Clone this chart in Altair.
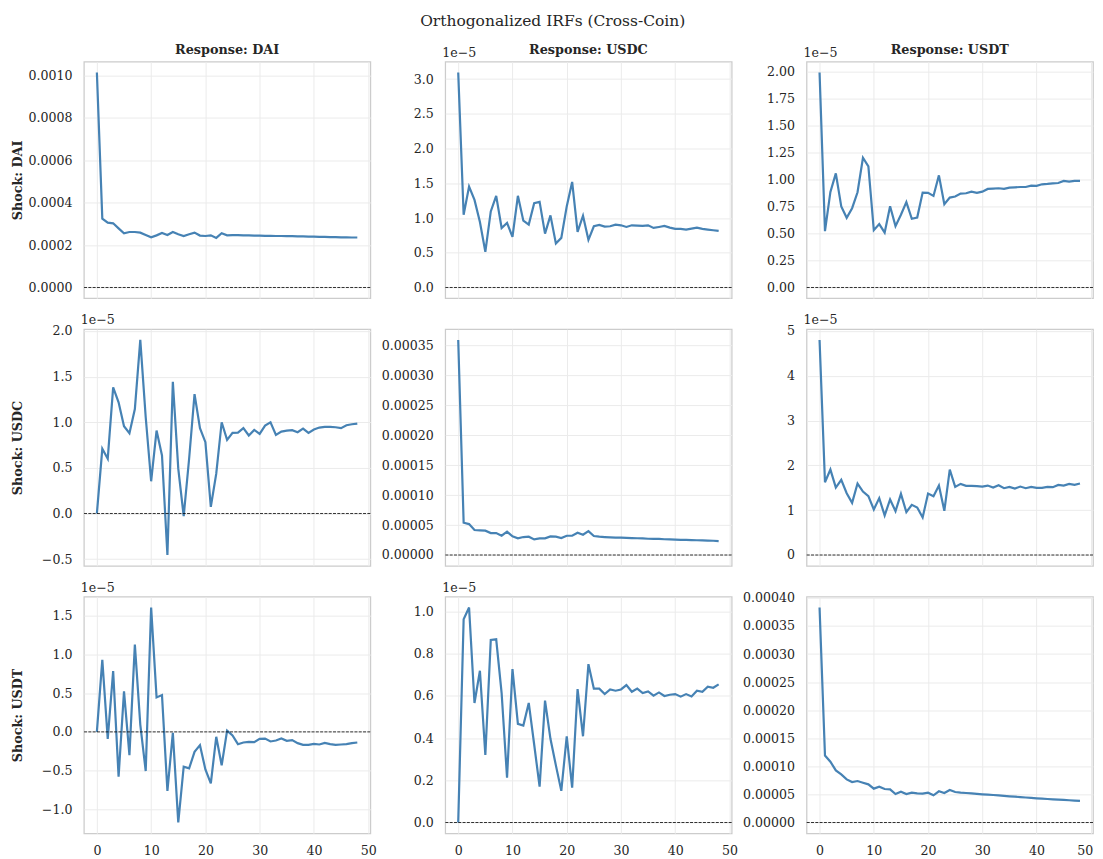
import altair as alt
import pandas as pd

FONT = "DejaVu Serif"
TEXT_COLOR = "#262626"
LINE_COLOR = "#4682b4"

horizon = list(range(49))
coins = ["DAI", "USDC", "USDT"]
main_title = "Orthogonalized IRFs (Cross-Coin)"
offset_label = "1e\u22125"

# ---- IRF values (row = shock, col = response) ----
# shock DAI
dai_to_dai = [0.001015, 0.000325, 0.000306, 0.000303, 0.000279, 0.000256, 0.000262, 0.000262, 0.000259, 0.000248,
              0.000237, 0.000246, 0.000257, 0.000248, 0.000262, 0.000251, 0.000243, 0.000251, 0.000259, 0.000245,
              0.000243, 0.000246, 0.000234, 0.000256, 0.000246, 0.000247, 0.000247, 0.000246, 0.000246, 0.000245,
              0.000245, 0.000244, 0.000244, 0.000243, 0.000243, 0.000242, 0.000242, 0.000241, 0.000241, 0.000240,
              0.000240, 0.000239, 0.000239, 0.000238, 0.000238, 0.000237, 0.000237, 0.000236, 0.000236]
dai_to_usdc_e5 = [3.095, 1.048, 1.452, 1.26, 0.943, 0.514, 1.095, 1.319, 0.857, 0.929,
                  0.729, 1.319, 0.962, 0.905, 1.214, 1.233, 0.776, 1.038, 0.633, 0.714,
                  1.167, 1.519, 0.80, 1.033, 0.686, 0.881, 0.90, 0.876, 0.881, 0.905,
                  0.895, 0.871, 0.895, 0.89, 0.886, 0.895, 0.857, 0.871, 0.886, 0.862,
                  0.843, 0.843, 0.833, 0.848, 0.862, 0.843, 0.833, 0.824, 0.814]
dai_to_usdt_e5 = [1.994, 0.523, 0.886, 1.058, 0.751, 0.646, 0.735, 0.883, 1.203, 1.123,
                  0.532, 0.588, 0.508, 0.754, 0.569, 0.674, 0.791, 0.637, 0.649, 0.88,
                  0.877, 0.849, 1.04, 0.772, 0.834, 0.843, 0.871, 0.874, 0.889, 0.877,
                  0.889, 0.914, 0.917, 0.92, 0.914, 0.926, 0.929, 0.932, 0.932, 0.945,
                  0.942, 0.957, 0.96, 0.966, 0.969, 0.988, 0.982, 0.988, 0.988]
# shock USDC
usdc_to_dai_e5 = [0.0, 0.709, 0.6, 1.382, 1.218, 0.956, 0.88, 1.145, 1.902, 1.055,
                  0.353, 0.909, 0.636, -0.455, 1.444, 0.491, -0.029, 0.6, 1.309, 0.935,
                  0.782, 0.073, 0.436, 1.0, 0.807, 0.884, 0.887, 0.935, 0.855, 0.916,
                  0.873, 0.964, 1.0, 0.862, 0.898, 0.909, 0.913, 0.891, 0.931, 0.884,
                  0.92, 0.942, 0.949, 0.949, 0.945, 0.935, 0.967, 0.978, 0.985]
usdc_to_usdc = [3.594e-4, 5.39e-5, 5.17e-5, 4.17e-5, 4.11e-5, 4.06e-5, 3.67e-5, 3.67e-5, 3.22e-5, 3.89e-5,
                3.11e-5, 2.78e-5, 3.00e-5, 3.06e-5, 2.61e-5, 2.78e-5, 2.78e-5, 3.11e-5, 3.06e-5, 2.83e-5,
                3.22e-5, 3.22e-5, 3.72e-5, 3.39e-5, 4.00e-5, 3.17e-5, 3.06e-5, 3.00e-5, 2.96e-5, 2.92e-5,
                2.89e-5, 2.86e-5, 2.83e-5, 2.80e-5, 2.77e-5, 2.72e-5, 2.70e-5, 2.68e-5, 2.63e-5, 2.60e-5,
                2.56e-5, 2.54e-5, 2.52e-5, 2.50e-5, 2.47e-5, 2.44e-5, 2.41e-5, 2.38e-5, 2.33e-5]
usdc_to_usdt_e5 = [4.8, 1.625, 1.907, 1.506, 1.677, 1.38, 1.165, 1.595, 1.417, 1.313,
                   1.016, 1.269, 0.883, 1.239, 0.979, 1.365, 0.957, 1.12, 1.061, 0.838,
                   1.372, 1.313, 1.55, 0.987, 1.907, 1.521, 1.588, 1.543, 1.543, 1.536,
                   1.528, 1.55, 1.506, 1.558, 1.491, 1.521, 1.484, 1.528, 1.491, 1.521,
                   1.499, 1.499, 1.521, 1.513, 1.565, 1.55, 1.588, 1.565, 1.595]
# shock USDT
usdt_to_dai_e5 = [0.0, 0.931, -0.09, 0.785, -0.579, 0.524, -0.3, 1.129, 0.094, -0.506,
                  1.609, 0.446, 0.476, -0.764, -0.013, -1.172, -0.451, -0.472, -0.258, -0.172,
                  -0.485, -0.665, -0.064, -0.433, 0.017, -0.047, -0.159, -0.137, -0.129, -0.133,
                  -0.09, -0.086, -0.124, -0.112, -0.086, -0.116, -0.107, -0.146, -0.167, -0.167,
                  -0.155, -0.163, -0.142, -0.159, -0.167, -0.163, -0.159, -0.146, -0.137]
usdt_to_usdc_e5 = [0.0, 0.964, 1.02, 0.567, 0.72, 0.32, 0.866, 0.869, 0.614, 0.213,
                   0.728, 0.468, 0.46, 0.567, 0.37, 0.17, 0.578, 0.397, 0.271, 0.15,
                   0.409, 0.165, 0.633, 0.409, 0.751, 0.635, 0.635, 0.609, 0.631, 0.625,
                   0.631, 0.652, 0.62, 0.635, 0.614, 0.622, 0.602, 0.617, 0.6, 0.606,
                   0.609, 0.597, 0.609, 0.598, 0.625, 0.62, 0.644, 0.639, 0.655]
usdt_to_usdt = [3.83e-4, 1.194e-4, 1.082e-4, 9.28e-5, 8.57e-5, 7.68e-5, 7.21e-5, 7.39e-5, 7.09e-5, 6.80e-5,
                6.03e-5, 6.38e-5, 5.97e-5, 5.91e-5, 5.08e-5, 5.50e-5, 5.08e-5, 5.32e-5, 5.20e-5, 5.14e-5,
                5.32e-5, 4.85e-5, 5.56e-5, 5.26e-5, 5.79e-5, 5.44e-5, 5.32e-5, 5.26e-5, 5.18e-5, 5.10e-5,
                5.02e-5, 4.96e-5, 4.90e-5, 4.83e-5, 4.75e-5, 4.67e-5, 4.60e-5, 4.53e-5, 4.45e-5, 4.38e-5,
                4.31e-5, 4.25e-5, 4.19e-5, 4.13e-5, 4.07e-5, 4.02e-5, 3.96e-5, 3.90e-5, 3.84e-5]

# ---- tick labels per panel ----
x_ticks = [0, 10, 20, 30, 40, 50]
ticks_dai_dai = [0.0, 0.0002, 0.0004, 0.0006, 0.0008, 0.0010]
ticks_dai_usdc = [0.0, 0.5, 1.0, 1.5, 2.0, 2.5, 3.0]
ticks_dai_usdt = [0.0, 0.25, 0.5, 0.75, 1.0, 1.25, 1.5, 1.75, 2.0]
ticks_usdc_dai = [-0.5, 0.0, 0.5, 1.0, 1.5, 2.0]
ticks_usdc_usdc = [0.0, 0.00005, 0.0001, 0.00015, 0.0002, 0.00025, 0.0003, 0.00035]
ticks_usdc_usdt = [0, 1, 2, 3, 4, 5]
ticks_usdt_dai = [-1.0, -0.5, 0.0, 0.5, 1.0, 1.5]
ticks_usdt_usdc = [0.0, 0.2, 0.4, 0.6, 0.8, 1.0]
ticks_usdt_usdt = [0.0, 0.00005, 0.0001, 0.00015, 0.0002, 0.00025, 0.0003, 0.00035, 0.0004]

# (values, ticks, format, shows 1e-5 offset label)
panels = [
    [(dai_to_dai, ticks_dai_dai, ".4f", False),
     (dai_to_usdc_e5, ticks_dai_usdc, ".1f", True),
     (dai_to_usdt_e5, ticks_dai_usdt, ".2f", True)],
    [(usdc_to_dai_e5, ticks_usdc_dai, ".1f", True),
     (usdc_to_usdc, ticks_usdc_usdc, ".5f", False),
     (usdc_to_usdt_e5, ticks_usdc_usdt, "d", True)],
    [(usdt_to_dai_e5, ticks_usdt_dai, ".1f", True),
     (usdt_to_usdc_e5, ticks_usdt_usdc, ".1f", True),
     (usdt_to_usdt, ticks_usdt_usdt, ".5f", False)],
]

W, H = 287, 237
LABEL_SIZE = 12.6
HEAD_SIZE = 12.8


def text_layer(text, x, y, align, weight, size):
    return alt.Chart(pd.DataFrame({"t": [text]})).mark_text(
        align=align, baseline="alphabetic", font=FONT, fontSize=size,
        fontWeight=weight, color=TEXT_COLOR
    ).encode(x=alt.value(x), y=alt.value(y), text="t:N")


def make_panel(r, c):
    vals, ticks, fmt, offset = panels[r][c]
    lo = min(min(vals), 0.0)
    hi = max(max(vals), 0.0)
    pad = 0.05 * (hi - lo)
    yscale = alt.Scale(domain=[lo - pad, hi + pad], nice=False, zero=False)
    yaxis_kw = dict(values=ticks, format=fmt)
    if c == 0:
        yaxis_kw.update(titleX=-62, titleY=H / 2, titleAngle=-90, titleAlign="center",
                        titleBaseline="alphabetic", titleFont=FONT, titleFontSize=HEAD_SIZE,
                        titleFontWeight="bold", titleColor=TEXT_COLOR)
        ytitle = f"Shock: {coins[r]}"
    else:
        ytitle = None
    yenc = alt.Y("v:Q", scale=yscale, axis=alt.Axis(**yaxis_kw), title=ytitle)

    xaxis_kw = dict(values=x_ticks, labels=(r == 2), format="d")
    if c == 2:
        # keep the last label inside the page
        xaxis_kw["labelOffset"] = alt.condition("datum.value == 50", alt.value(-6), alt.value(0))
    xenc = alt.X("h:Q", scale=alt.Scale(domain=[-2.4, 50.4], nice=False, zero=False),
                 axis=alt.Axis(**xaxis_kw), title=None)

    df = pd.DataFrame({"h": horizon, "v": vals})
    line = alt.Chart(df).mark_line(color=LINE_COLOR, strokeWidth=2.2).encode(x=xenc, y=yenc)
    zero = alt.Chart(pd.DataFrame({"v": [0.0]})).mark_rule(
        color="black", strokeWidth=0.8, strokeDash=[3, 1.3]
    ).encode(y=yenc)
    layers = [line, zero]
    if r == 0:
        layers.append(text_layer(f"Response: {coins[c]}", W / 2, -8, "center", "bold", HEAD_SIZE))
    if offset:
        layers.append(text_layer(offset_label, -3, -5, "left", "normal", LABEL_SIZE))
    return alt.layer(*layers).properties(width=W, height=H)


chart = alt.concat(
    *[make_panel(r, c) for r in range(3) for c in range(3)],
    columns=3, spacing={"row": 31, "column": 75}, bounds="flush",
    title=alt.TitleParams(main_title, font=FONT, fontSize=15.5, fontWeight="normal",
                          color=TEXT_COLOR, anchor="middle", offset=14),
    padding={"left": 3, "top": 4, "right": 0, "bottom": 0},
).configure_view(
    stroke="#cccccc", strokeWidth=1.25
).configure_axis(
    labelFont=FONT, labelFontSize=LABEL_SIZE, labelColor=TEXT_COLOR,
    ticks=False, tickSize=0, domain=False,
    gridColor="#ebebeb", gridWidth=1, labelOverlap=False,
).configure_axisY(
    labelPadding=12
).configure_axisX(
    labelPadding=11
)

chart.save("out.html", embed_options={"renderer": "svg", "actions": False})
